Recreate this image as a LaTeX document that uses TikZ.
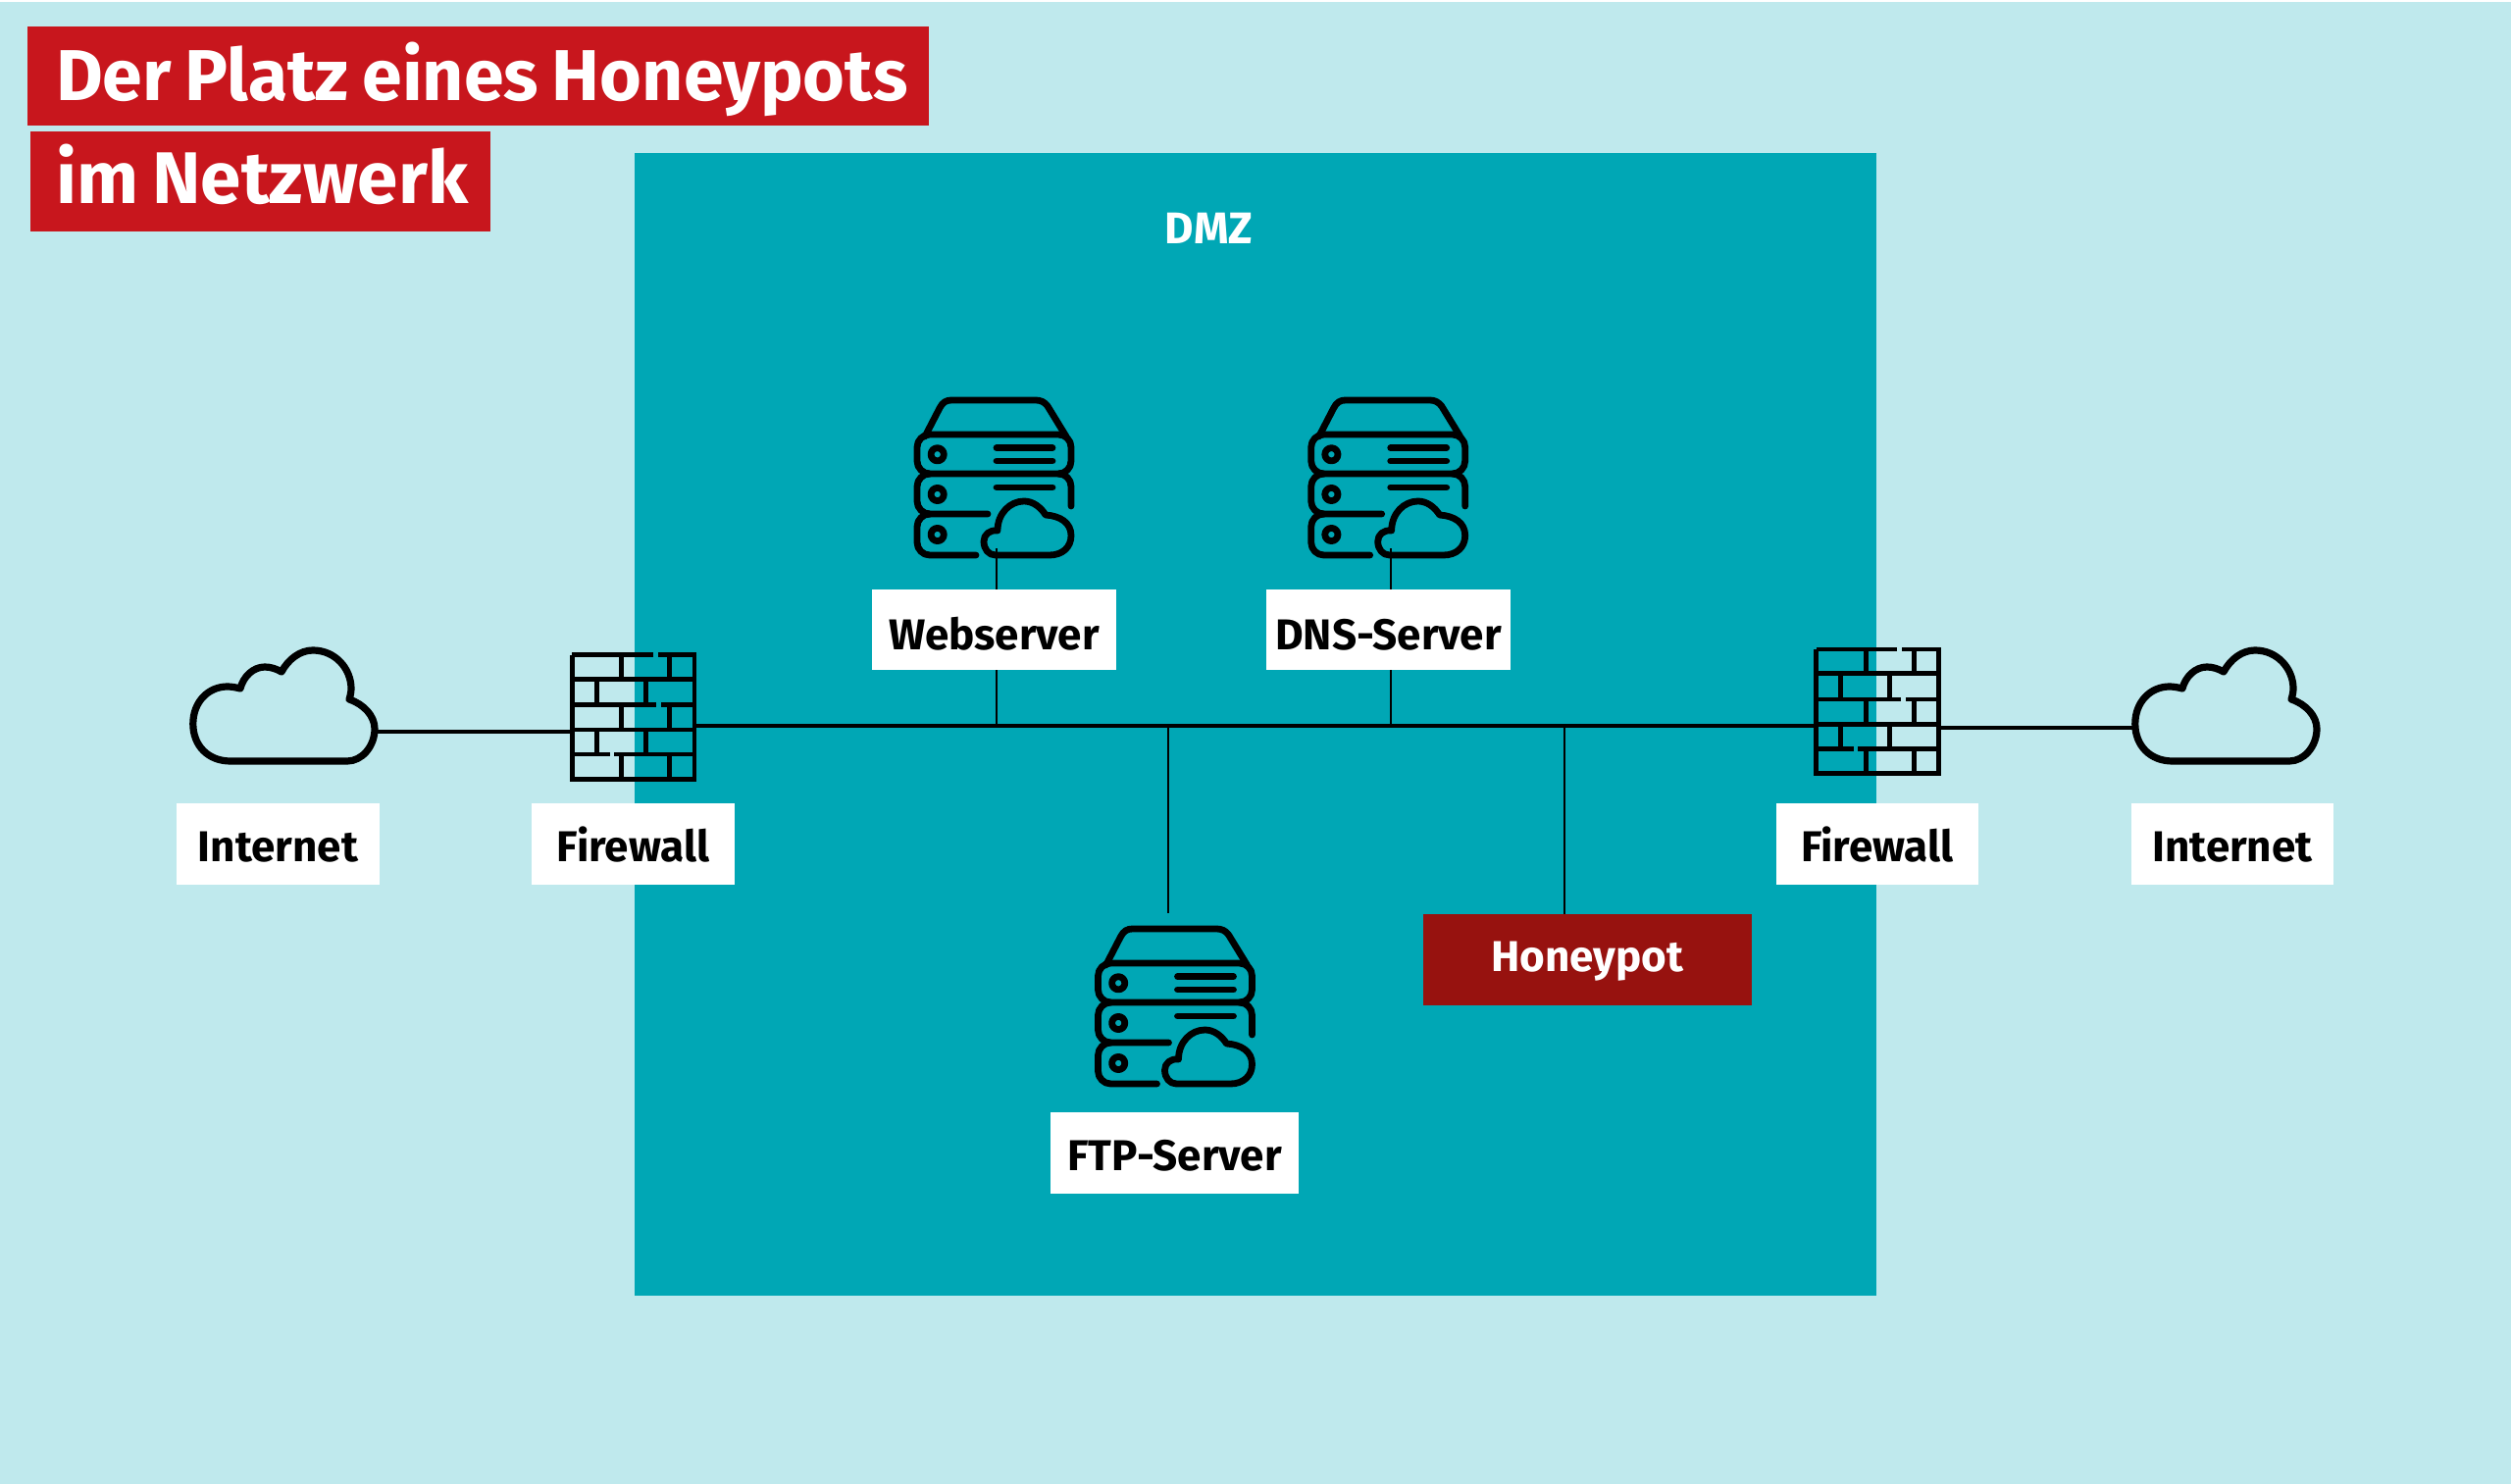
\documentclass[tikz,border=0pt]{standalone}
\usepackage{fontspec}
\setmainfont[WordSpace=0.8]{Fira Sans}
\definecolor{bgc}{HTML}{BFE9ED}
\definecolor{dmzc}{HTML}{00A7B5}
\definecolor{redc}{HTML}{C8161D}
\definecolor{hpc}{HTML}{97120F}
\tikzset{
  lbl/.style={fill=white,inner sep=0pt,text height=18pt,text depth=0pt,font=\fontsize{22}{24}\selectfont\bfseries,text=black},
  ttl/.style={fill=redc,inner sep=0pt,text=white,text depth=0pt},
  conn/.style={draw=black,line width=1.2pt},
  bus/.style={draw=black,line width=2pt},
  icon/.style={draw=black,line width=3.4pt,line cap=round,line join=round},
  wall/.style={draw=black,line width=2.4pt,line cap=butt}
}
\newcommand{\cloudpath}{(65,146) .. controls (42,146) and (26.8,130) .. (26.8,108) .. controls (26.8,86) and (42,70) .. (62,70) .. controls (66,70) and (71,71) .. (75,72) .. controls (78,60) and (88,50) .. (100,50) .. controls (106,50) and (112,52) .. (117,55) .. controls (124,42) and (136,33) .. (149,33) .. controls (172,33) and (188,52) .. (188,72) .. controls (188,76) and (187,80) .. (186,83) .. controls (201,88) and (212,100) .. (212,113) .. controls (212,131) and (199,146) .. (184,146) -- cycle}
\tikzset{
 bigcloud/.pic={\draw[icon,line width=3.6pt] \cloudpath;},
 server/.pic={
  \draw[icon] (63,65) -- (78,36) .. controls (81,30) and (85,28) .. (90,28) -- (176,28) .. controls (181,28) and (185,30) .. (188,34) -- (207,65);
  \draw[icon,rounded corners=6.5pt] (55,63) rectangle (212,103);
  \draw[icon,rounded corners=6.5pt] (68,103) -- (55,103) -- (55,144) -- (127,144);
  \draw[icon,rounded corners=6.5pt] (199,103) -- (212,103) -- (212,136);
  \draw[icon,rounded corners=6.5pt] (68,144) -- (55,144) -- (55,186) -- (115,186);
  \foreach \yy in {83.3,124,165} \draw[icon] (75.7,\yy) circle (3.3pt);
  \draw[icon] (136,76.7) -- (193,76.7) (136,90) -- (193,90) (136,117) -- (193,117);
  \draw[icon] (135,186) .. controls (128,186) and (123,180) .. (123,172) .. controls (123,165) and (129,160) .. (137,161) .. controls (137,143) and (150,131) .. (164,131) .. controls (173,131) and (181,137) .. (186,145) .. controls (201,146) and (212,153) .. (212,166) .. controls (212,178) and (203,186) .. (190,186) -- cycle;
 },
 firewall/.pic={
  \draw[wall] (0,0) -- (0,126.6) -- (124.7,126.6) -- (124.7,0) -- (87.3,0) (82.3,0) -- (0,0);
  \draw[wall] (0,24.6) -- (124.7,24.6) (0,51) -- (86.1,51) (91.1,51) -- (124.7,51) (0,76.3) -- (124.7,76.3) (0,101.3) -- (38.3,101.3) (42.7,101.3) -- (124.7,101.3);
  \foreach \xx in {50.5,99.5} \draw[wall] (\xx,0) -- (\xx,24.6) (\xx,51) -- (\xx,76.3) (\xx,101.3) -- (\xx,126.6);
  \foreach \xx in {25,75} \draw[wall] (\xx,24.6) -- (\xx,51) (\xx,76.3) -- (\xx,101.3);
 }
}
\begin{document}
\begin{tikzpicture}[x=0.5pt,y=-0.5pt]
\useasboundingbox (0,0) rectangle (2560,1513);
\fill[bgc] (0,2) rectangle (2560,1513);
\fill[dmzc] (647,156) rectangle (1913,1321);
% titles
\node[ttl,font=\fontsize{36.7}{40}\selectfont\bfseries,text height=25.5pt,minimum height=50.5pt] (t1) at (487.5,77.5) {\makebox[459.5pt][l]{\hspace*{14.5pt}Der Platz eines Honeypots}};
\node[ttl,font=\fontsize{37.3}{40}\selectfont\bfseries,text height=23pt,minimum height=51pt] (t2) at (265.3,185) {\makebox[234.5pt][l]{\hspace*{13.2pt}im Netzwerk}};
\node[font=\fontsize{22.6}{24}\selectfont\bfseries,text=white,inner sep=0pt] (dmz) at (1232.5,232.5) {DMZ};
% icons
\path (170,630) pic {bigcloud};
\path (2150,630) pic {bigcloud};
\path (583.3,667.7) pic {firewall};
\path (1851.7,662) pic {firewall};
\path (880,380) pic {server};
\path (1281.7,380) pic {server};
\path (1064.5,919) pic {server};
% anchor nodes on icons
\node[inner sep=0pt,minimum width=92.5pt,minimum height=56.5pt] (cloudL) at (289.4,719.5) {};
\node[inner sep=0pt,minimum width=92.5pt,minimum height=56.5pt] (cloudR) at (2269.4,719.5) {};
\node[inner sep=0pt,minimum width=62.3pt,minimum height=63.3pt] (fwL) at (645.6,731) {};
\node[inner sep=0pt,minimum width=62.3pt,minimum height=63.3pt] (fwR) at (1914,725.3) {};
\node[inner sep=0pt,minimum size=2pt] (webS) at (1015.7,557) {};
\node[inner sep=0pt,minimum size=2pt] (dnsS) at (1417.7,557) {};
% labels
\node[lbl,minimum width=103.5pt,minimum height=41.5pt] (inL) at (283.5,860.5) {Internet};
\node[lbl,minimum width=103.5pt,minimum height=41.5pt] (fwlL) at (645.5,860.5) {Firewall};
\node[lbl,minimum width=103pt,minimum height=41.5pt] (fwlR) at (1914,860.5) {Firewall};
\node[lbl,minimum width=103pt,minimum height=41.5pt] (inR) at (2276,860.5) {Internet};
\node[lbl,text height=20pt,minimum width=124.5pt,minimum height=41pt] (web) at (1013.5,642) {Webserver};
\node[lbl,text height=20pt,minimum width=124.5pt,minimum height=41pt] (dns) at (1415.5,642) {DNS-Server};
\node[lbl,minimum width=126.5pt,minimum height=41.5pt] (ftp) at (1197.5,1175) {FTP-Server};
\node[lbl,fill=hpc,text=white,text height=15pt,text depth=3pt,minimum width=167.5pt,minimum height=46.5pt] (hp) at (1618.5,978.5) {Honeypot};
% connectors
\coordinate (bW) at (1016,740);
\coordinate (bD) at (1417.7,740);
\coordinate (bF) at (1191,740);
\coordinate (bH) at (1595,740);
\coordinate (ftpTop) at (1191,931);
\draw[bus] (fwL.east |- bW) -- (fwR.west |- bW);
\draw[bus] (cloudL.east |- 0,746) -- (fwL.west |- 0,746);
\draw[bus] (fwR.east |- 0,742) -- (cloudR.west |- 0,742);
\draw[conn] (webS) -- (web.north -| webS);
\draw[conn] (dnsS) -- (dns.north -| dnsS);
\draw[conn] (web.south -| bW) -- (bW);
\draw[conn] (dns.south -| bD) -- (bD);
\draw[conn] (bF) -- (ftpTop);
\draw[conn] (bH) -- (hp.north -| bH);
\end{tikzpicture}
\end{document}
